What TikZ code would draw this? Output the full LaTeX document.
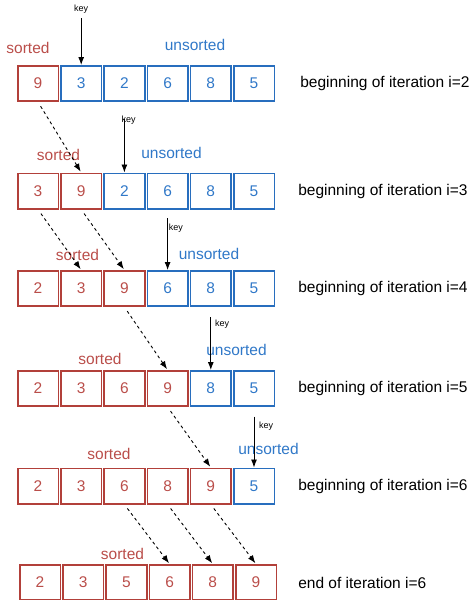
\documentclass[tikz,border=0pt]{standalone}
\usepackage{fontspec}
\setmainfont{Liberation Sans}
\usetikzlibrary{arrows.meta,positioning}

\definecolor{sortred}{RGB}{178,64,58}
\definecolor{sorttxt}{RGB}{186,78,74}
\definecolor{unsortblue}{RGB}{40,110,190}
\definecolor{unsorttxt}{RGB}{48,120,200}

\begin{document}
\begin{tikzpicture}[x=1pt, y=-1pt, node distance=1pt, >={Latex[length=8pt,width=6pt]},
    block/.style = {draw, rectangle, line width=1.6pt, minimum height=35.4pt, minimum width=40.6pt, inner sep=0pt, font=\fontsize{15.5}{18}\selectfont},
    sortedblock/.style = {block, draw=sortred, text=sorttxt},
    unsortedblock/.style = {block, draw=unsortblue, text=unsorttxt},
    sortedlbl/.style = {text=sorttxt, inner sep=0pt, font=\fontsize{15.5}{18}\selectfont},
    unsortedlbl/.style = {text=unsorttxt, inner sep=0pt, font=\fontsize{15.5}{18}\selectfont},
    iterlbl/.style = {inner sep=0pt, font=\fontsize{15.5}{18}\selectfont},
    keylbl/.style = {inner sep=0pt, font=\fontsize{9}{10}\selectfont},
    keyarrow/.style = {->, line width=0.9pt},
    movearrow/.style = {->, line width=0.9pt, dash pattern=on 3pt off 3pt, shorten <=5pt, shorten >=1pt},]
    \useasboundingbox (0,0) rectangle (469,600);

    % beginning of iteration i=2
    \node [sortedblock] at (38,83.5) (a1) {9};
    \node [unsortedblock, right=of a1] (a2) {3};
    \node [unsortedblock, right=of a2] (a3) {2};
    \node [unsortedblock, right=of a3] (a4) {6};
    \node [unsortedblock, right=of a4] (a5) {8};
    \node [unsortedblock, right=of a5] (a6) {5};
    \node [iterlbl, right=25pt of a6] (itA) {beginning of iteration i=2};
    \node [sortedlbl] at (28,48) (srtA) {sorted};
    \node [unsortedlbl] at (195,45) (unsA) {unsorted};
    \coordinate [above=47pt of a2.north] (k1);
    \node [keylbl, above=4pt of k1] (keyA) {key};
    \draw[keyarrow] (k1) -- (a2.north);

    % beginning of iteration i=3
    \node [sortedblock] at (38,191) (b1) {3};
    \node [sortedblock, right=of b1] (b2) {9};
    \node [unsortedblock, right=of b2] (b3) {2};
    \node [unsortedblock, right=of b3] (b4) {6};
    \node [unsortedblock, right=of b4] (b5) {8};
    \node [unsortedblock, right=of b5] (b6) {5};
    \node [iterlbl, right=23pt of b6] (itB) {beginning of iteration i=3};
    \node [sortedlbl] at (58.5,155) (srtB) {sorted};
    \node [unsortedlbl] at (171.5,153) (unsB) {unsorted};
    \coordinate [above=54pt of b3.north] (k2);
    \node [keylbl, anchor=west, xshift=-3pt, yshift=-2pt] at (k2) (keyB) {key};
    \draw[keyarrow] (k2) -- (b3.north);
    \draw[movearrow] (a1.south) -- (b2.north);

    % beginning of iteration i=4
    \node [sortedblock] at (38,288.5) (c1) {2};
    \node [sortedblock, right=of c1] (c2) {3};
    \node [sortedblock, right=of c2] (c3) {9};
    \node [unsortedblock, right=of c3] (c4) {6};
    \node [unsortedblock, right=of c4] (c5) {8};
    \node [unsortedblock, right=of c5] (c6) {5};
    \node [iterlbl, right=23pt of c6] (itC) {beginning of iteration i=4};
    \node [sortedlbl] at (77.5,255) (srtC) {sorted};
    \node [unsortedlbl] at (209,254) (unsC) {unsorted};
    \coordinate [above=52pt of c4.north] (k3);
    \node [keylbl, anchor=west, xshift=1pt, yshift=-10pt] at (k3) (keyC) {key};
    \draw[keyarrow] (k3) -- (c4.north);
    \draw[movearrow] (b1.south) -- (c2.north);
    \draw[movearrow] (b2.south) -- (c3.north);

    % beginning of iteration i=5
    \node [sortedblock] at (38,388.5) (d1) {2};
    \node [sortedblock, right=of d1] (d2) {3};
    \node [sortedblock, right=of d2] (d3) {6};
    \node [sortedblock, right=of d3] (d4) {9};
    \node [unsortedblock, right=of d4] (d5) {8};
    \node [unsortedblock, right=of d5] (d6) {5};
    \node [iterlbl, right=23pt of d6] (itD) {beginning of iteration i=5};
    \node [sortedlbl] at (100,359) (srtD) {sorted};
    \node [unsortedlbl] at (236.5,350) (unsD) {unsorted};
    \coordinate [above=53pt of d5.north] (k4);
    \node [keylbl, anchor=west, xshift=4pt, yshift=-7pt] at (k4) (keyD) {key};
    \draw[keyarrow] (k4) -- (d5.north);
    \draw[movearrow] (c3.south) -- (d4.north);

    % beginning of iteration i=6
    \node [sortedblock] at (38,486) (e1) {2};
    \node [sortedblock, right=of e1] (e2) {3};
    \node [sortedblock, right=of e2] (e3) {6};
    \node [sortedblock, right=of e3] (e4) {8};
    \node [sortedblock, right=of e4] (e5) {9};
    \node [unsortedblock, right=of e5] (e6) {5};
    \node [iterlbl, right=23pt of e6] (itE) {beginning of iteration i=6};
    \node [sortedlbl] at (109,454) (srtE) {sorted};
    \node [unsortedlbl] at (268.5,449) (unsE) {unsorted};
    \coordinate [above=51pt of e6.north] (k5);
    \node [keylbl, anchor=west, xshift=5pt, yshift=-9.5pt] at (k5) (keyE) {key};
    \draw[keyarrow] (k5) -- (e6.north);
    \draw[movearrow] (d4.south) -- (e5.north);

    % end of iteration i=6
    \node [sortedblock] at (40,582.5) (f1) {2};
    \node [sortedblock, right=of f1] (f2) {3};
    \node [sortedblock, right=of f2] (f3) {5};
    \node [sortedblock, right=of f3] (f4) {6};
    \node [sortedblock, right=of f4] (f5) {8};
    \node [sortedblock, right=of f5] (f6) {9};
    \node [iterlbl, right=21pt of f6] (itF) {end of iteration i=6};
    \node [sortedlbl] at (122.5,554) (srtF) {sorted};
    \draw[movearrow] (e3.south) -- (f4.north);
    \draw[movearrow] (e4.south) -- (f5.north);
    \draw[movearrow] (e5.south) -- (f6.north);
  \end{tikzpicture}
\end{document}
